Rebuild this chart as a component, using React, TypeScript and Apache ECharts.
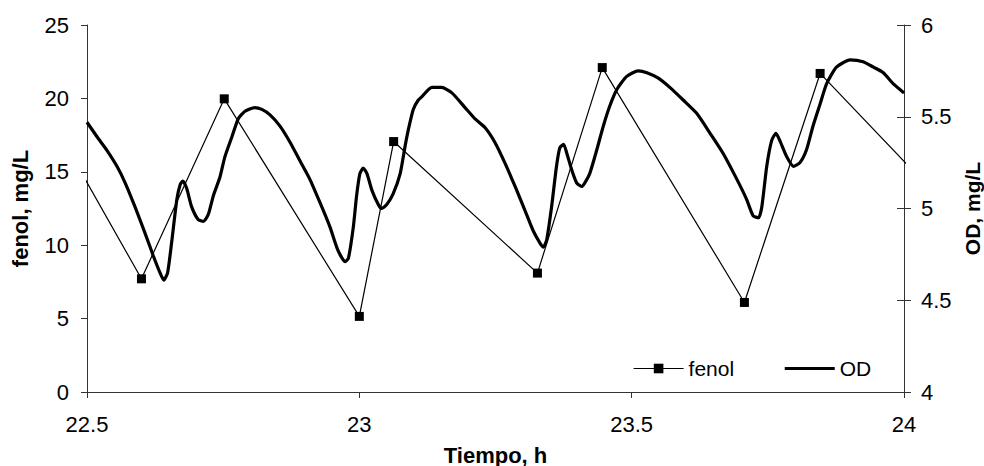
import React, { useEffect, useRef } from "react";
import * as echarts from "echarts";

const xTicks = ["22.5", "23", "23.5", "24"];
const leftTicks = [0, 5, 10, 15, 20, 25];
const rightTicks = [4, 4.5, 5, 5.5, 6];

const fenolTime = [22.49, 22.6, 22.752, 23.0, 23.063, 23.327, 23.446, 23.707, 23.846, 24.014];
const fenolValue = [14.93, 7.71, 19.97, 5.15, 17.06, 8.1, 22.1, 6.1, 21.7, 15.18];

const odTime = [
  22.5, 22.521, 22.536, 22.555, 22.57, 22.588, 22.606, 22.622, 22.634, 22.641,
  22.648, 22.656, 22.665, 22.671, 22.676, 22.683, 22.692, 22.704, 22.714, 22.723,
  22.732, 22.744, 22.753, 22.766, 22.778, 22.79, 22.808, 22.821, 22.836, 22.854,
  22.873, 22.891, 22.909, 22.928, 22.946, 22.961, 22.974, 22.98, 22.989, 22.995,
  23.001, 23.007, 23.014, 23.023, 23.035, 23.041, 23.05, 23.062, 23.075, 23.084,
  23.09, 23.099, 23.108, 23.115, 23.133, 23.151, 23.17, 23.194, 23.212, 23.231,
  23.249, 23.267, 23.286, 23.304, 23.319, 23.332, 23.338, 23.344, 23.353, 23.362,
  23.368, 23.375, 23.381, 23.39, 23.399, 23.408, 23.414, 23.423, 23.436, 23.448,
  23.46, 23.473, 23.491, 23.512, 23.528, 23.549, 23.57, 23.595, 23.619, 23.644,
  23.668, 23.693, 23.711, 23.723, 23.733, 23.739, 23.748, 23.757, 23.765, 23.772,
  23.785, 23.797, 23.809, 23.821, 23.833, 23.846, 23.858, 23.876, 23.901, 23.925,
  23.944, 23.962, 23.98, 24.0,
];
const odValue = [
  5.47, 5.38, 5.32, 5.23, 5.14, 5.01, 4.87, 4.74, 4.65, 4.61,
  4.65, 4.83, 5.05, 5.13, 5.15, 5.11, 5.01, 4.94, 4.93, 4.97,
  5.07, 5.17, 5.28, 5.39, 5.49, 5.53, 5.55, 5.54, 5.51, 5.45,
  5.36, 5.26, 5.16, 5.03, 4.9, 4.77, 4.71, 4.73, 4.9, 5.07,
  5.19, 5.22, 5.19, 5.1, 5.02, 5.0, 5.02, 5.08, 5.19, 5.34,
  5.43, 5.54, 5.59, 5.61, 5.66, 5.66, 5.63, 5.55, 5.49, 5.44,
  5.36, 5.25, 5.12, 4.99, 4.88, 4.81, 4.79, 4.83, 5.01, 5.23,
  5.33, 5.35, 5.3, 5.21, 5.14, 5.12, 5.14, 5.19, 5.32, 5.45,
  5.56, 5.65, 5.72, 5.75, 5.74, 5.71, 5.66, 5.59, 5.52, 5.41,
  5.3, 5.16, 5.05, 4.96, 4.95, 5.01, 5.23, 5.37, 5.41, 5.37,
  5.28, 5.23, 5.25, 5.32, 5.45, 5.57, 5.68, 5.77, 5.81, 5.8,
  5.77, 5.74, 5.68, 5.63,
];

const FONT = "'Liberation Sans', Arial, sans-serif";
const AXIS_COLOR = "#333";

export default function App() {
  const ref = useRef<HTMLDivElement>(null);

  useEffect(() => {
    if (!ref.current) return;
    const chart = echarts.init(ref.current, null, { renderer: "svg" });

    const fenolData = fenolTime.map((t, i) => {
      const edge = i === 0 || i === fenolTime.length - 1;
      return edge
        ? { value: [t, fenolValue[i]], symbol: "none" }
        : { value: [t, fenolValue[i]] };
    });
    const odData = odTime.map((t, i) => [t, odValue[i]]);

    const xMin = parseFloat(xTicks[0]);
    const xMax = parseFloat(xTicks[xTicks.length - 1]);

    chart.setOption({
      animation: false,
      backgroundColor: "#fff",
      textStyle: { fontFamily: FONT, color: "#000" },
      grid: {
        left: 87,
        right: 80,
        top: 25,
        bottom: 74,
        containLabel: false,
        outerBoundsMode: "none",
      },
      legend: {
        left: 628,
        top: 353,
        itemWidth: 50,
        itemHeight: 12,
        itemGap: 49,
        textStyle: { fontSize: 21, fontFamily: FONT, color: "#000" },
        data: [
          { name: "fenol", lineStyle: { width: 1.2 } },
          { name: "OD", itemStyle: { opacity: 0 }, lineStyle: { width: 3.2, color: "#000" } },
        ],
      },
      xAxis: {
        type: "value",
        min: xMin,
        max: xMax,
        interval: 0.5,
        name: "Tiempo, h",
        nameLocation: "middle",
        nameGap: 52,
        nameTextStyle: { fontSize: 22, lineHeight: 22, fontWeight: "bold", fontFamily: FONT, color: "#000" },
        axisLine: { onZero: false, lineStyle: { color: AXIS_COLOR, width: 1 } },
        axisTick: { show: true, inside: false, length: 6, lineStyle: { color: AXIS_COLOR } },
        axisLabel: { fontSize: 22, color: "#000", margin: 21, fontFamily: FONT },
        splitLine: { show: false },
      },
      yAxis: [
        {
          type: "value",
          position: "left",
          min: leftTicks[0],
          max: leftTicks[leftTicks.length - 1],
          interval: 5,
          name: "fenol, mg/L",
          nameLocation: "middle",
          nameRotate: 90,
          nameGap: 56,
          nameTextStyle: { fontSize: 22, lineHeight: 22, fontWeight: "bold", fontFamily: FONT, color: "#000" },
          axisLine: { show: true, lineStyle: { color: AXIS_COLOR, width: 1 } },
          axisTick: { show: true, inside: false, length: 6, lineStyle: { color: AXIS_COLOR } },
          axisLabel: { fontSize: 22, color: "#000", margin: 18, fontFamily: FONT },
          splitLine: { show: false },
        },
        {
          type: "value",
          position: "right",
          min: rightTicks[0],
          max: rightTicks[rightTicks.length - 1],
          interval: 0.5,
          name: "OD, mg/L",
          nameLocation: "middle",
          nameRotate: 90,
          nameGap: 55,
          nameTextStyle: { fontSize: 21, lineHeight: 21, fontWeight: "bold", fontFamily: FONT, color: "#000" },
          axisLine: { show: true, lineStyle: { color: AXIS_COLOR, width: 1 } },
          axisTick: { show: true, inside: false, length: 7, lineStyle: { color: AXIS_COLOR } },
          axisLabel: { fontSize: 22, color: "#000", margin: 17, fontFamily: FONT },
          splitLine: { show: false },
        },
        {
          type: "value",
          position: "right",
          min: rightTicks[0],
          max: rightTicks[rightTicks.length - 1],
          interval: 0.5,
          axisLine: { show: false },
          axisTick: { show: true, inside: true, length: 7, lineStyle: { color: AXIS_COLOR } },
          axisLabel: { show: false },
          splitLine: { show: false },
        },
      ],
      series: [
        {
          name: "fenol",
          type: "line",
          yAxisIndex: 0,
          data: fenolData,
          clip: false,
          symbol: "rect",
          symbolSize: 9,
          showSymbol: true,
          itemStyle: { color: "#000" },
          lineStyle: { color: "#000", width: 1.2 },
          z: 3,
        },
        {
          name: "OD",
          type: "line",
          yAxisIndex: 1,
          data: odData,
          symbol: "none",
          smooth: 0.2,
          itemStyle: { color: "#000" },
          lineStyle: { color: "#000", width: 3.2 },
          z: 2,
        },
      ],
    });

    return () => chart.dispose();
  }, []);

  return (
    <div
      ref={ref}
      style={{ position: "fixed", left: 0, top: 0, width: 984, height: 466, background: "#fff" }}
    />
  );
}
